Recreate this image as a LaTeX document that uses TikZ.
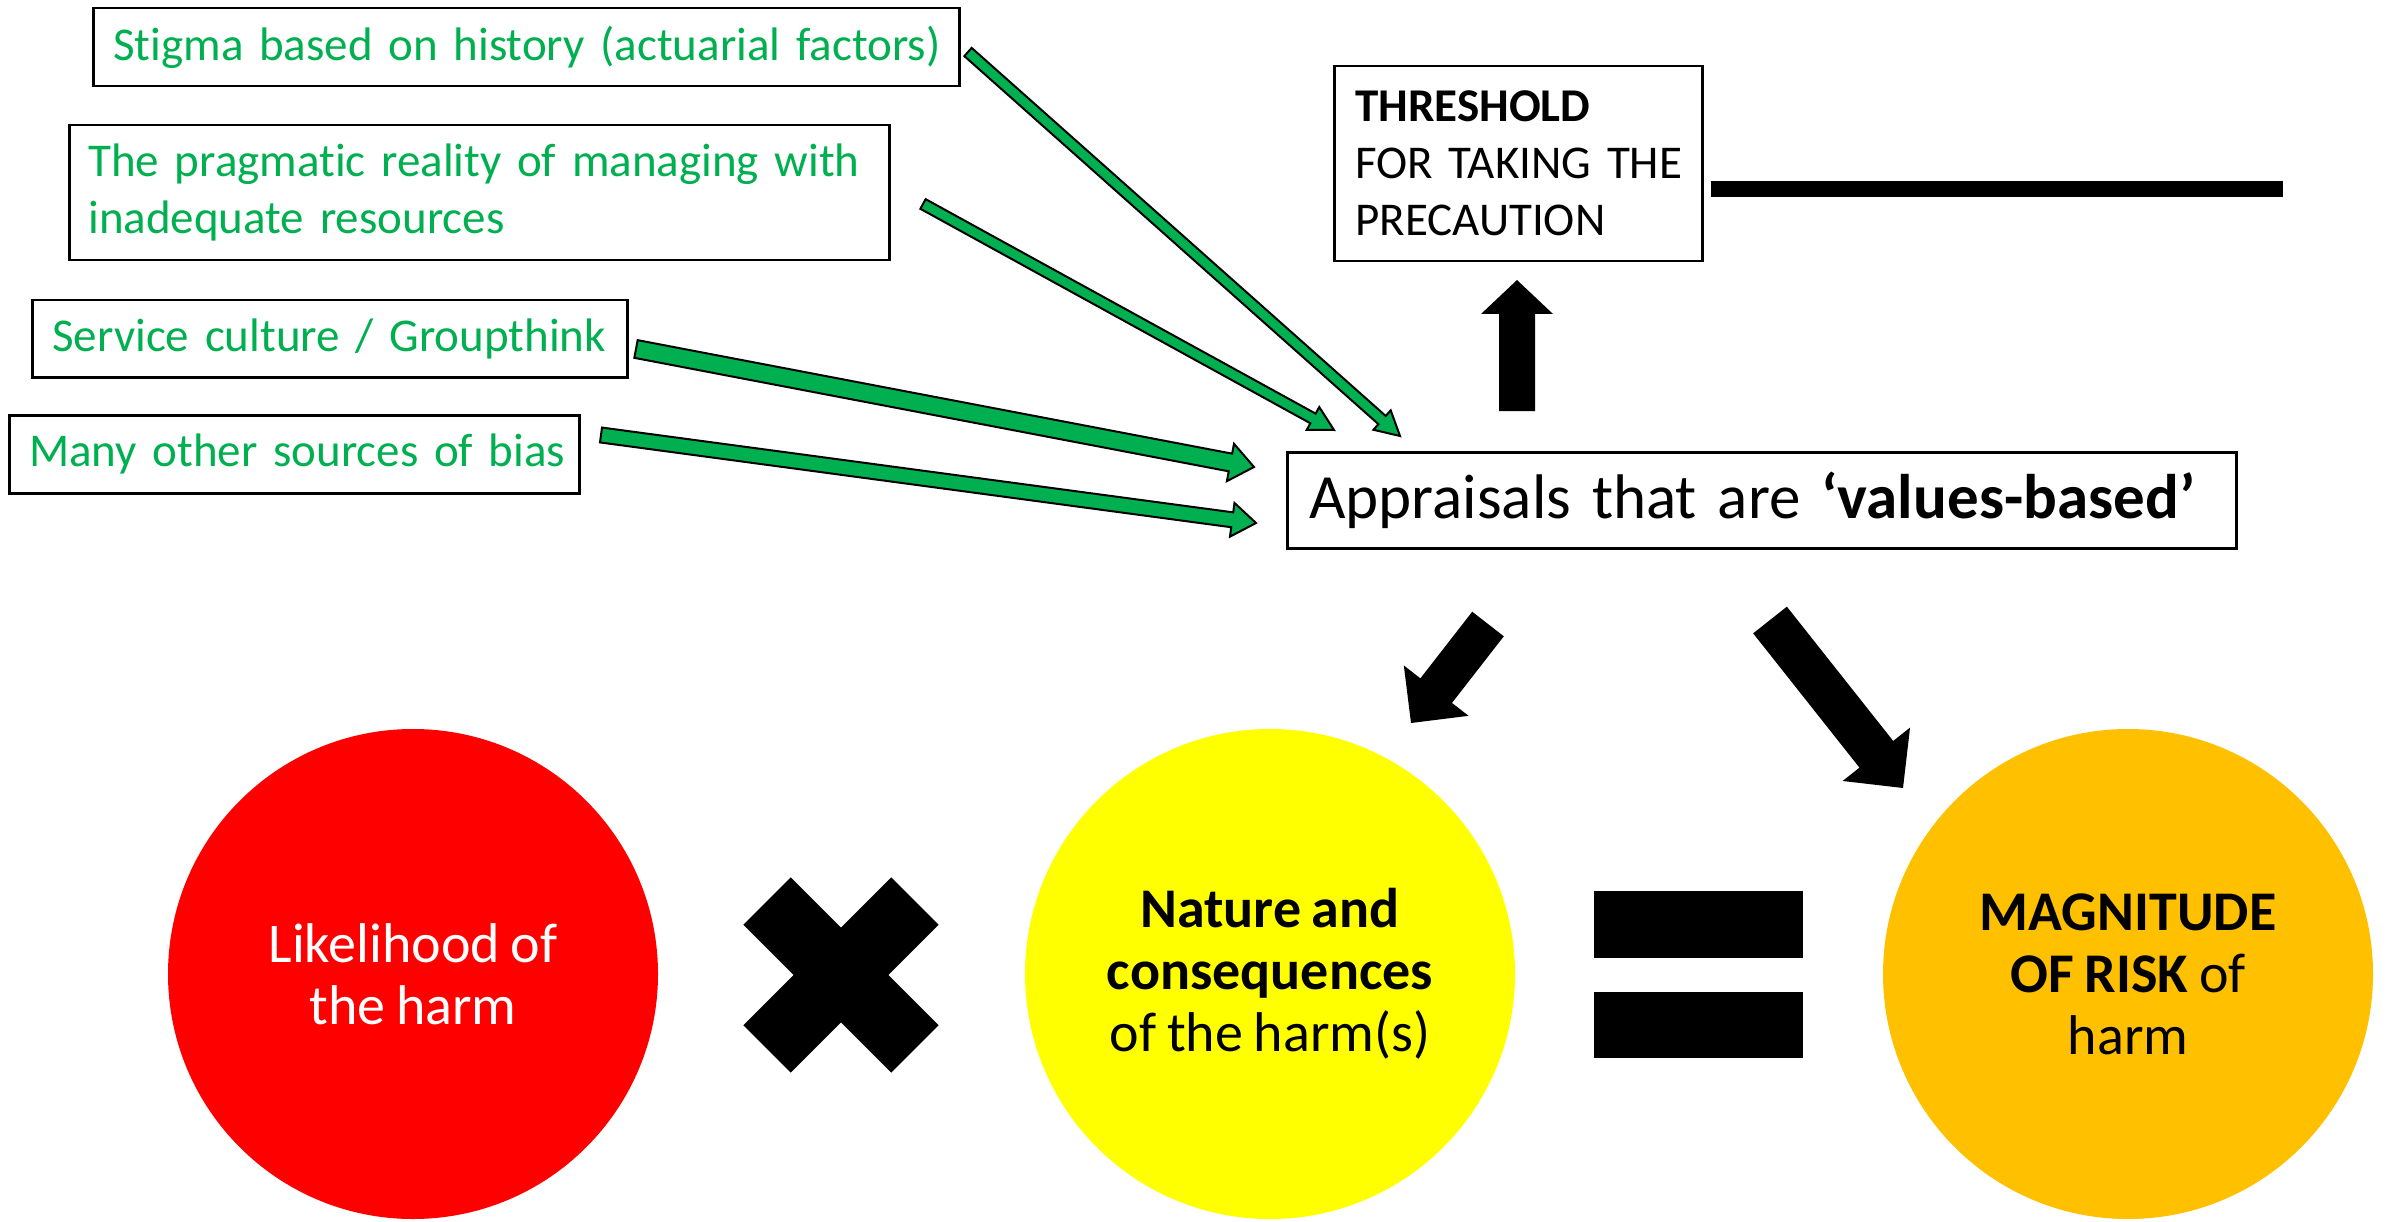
\documentclass[tikz,border=0pt]{standalone}
\usepackage{fontspec}
\setmainfont{Carlito}[Ligatures=NoCommon, WordSpace=0.85]
\usetikzlibrary{calc}
\definecolor{ggreen}{RGB}{0,176,80}
\definecolor{orng}{RGB}{255,192,0}
\definecolor{yell}{RGB}{255,255,0}
\definecolor{rred}{RGB}{255,0,0}
% #1 style, #2 start, #3 tip, #4 shaft half width, #5 head half width, #6 head length
\newcommand\blockarr[6]{%
  \coordinate (ba-b) at ($(#3)!#6!(#2)$);
  \path[#1] ($(#2)!#4!90:(#3)$) -- ($(ba-b)!#4!90:(#3)$) -- ($(ba-b)!#5!90:(#3)$)
    -- (#3) -- ($(ba-b)!#5!-90:(#3)$) -- ($(ba-b)!#4!-90:(#3)$) -- ($(#2)!#4!-90:(#3)$) -- cycle;
}
\begin{document}
\begin{tikzpicture}[x=1pt,y=-1pt,
  tbox/.style={draw=black, line width=2.5pt, fill=white, anchor=north west, align=left,
    inner ysep=0pt, font=\fontsize{47}{57}\selectfont},
  gtext/.style={text=ggreen},
  garrow/.style={fill=ggreen, draw=black, line width=2pt, line join=miter},
  karrow/.style={fill=black},
  disc/.style={circle, inner sep=0pt, minimum size=490pt, align=center,
    font=\fontsize{56}{62}\selectfont}
]
\useasboundingbox[fill=white] (0,0) rectangle (2389,1222);

% green source boxes
\node[tbox, gtext, inner xsep=20pt, text width=826pt, minimum height=78pt] (b1) at (92,7)
  {\mbox{Stigma based on history (actuarial factors)}};
\node[tbox, gtext, inner xsep=19pt, text width=782pt, minimum height=135pt] (b2) at (68,124)
  {\mbox{The pragmatic reality of managing with}\\\mbox{inadequate resources}};
\node[tbox, gtext, inner xsep=20pt, text width=555pt, minimum height=77pt] (b3) at (31,299)
  {\mbox{Service culture / Groupthink}};
\node[tbox, gtext, inner xsep=20pt, text width=530pt, minimum height=78pt] (b4) at (8,414)
  {\mbox{Many other sources of bias}};

% threshold box
\node[tbox, inner xsep=21pt, text width=326pt, minimum height=195pt] (thr) at (1333,65)
  {\mbox{\textbf{THRESHOLD}}\\\mbox{FOR TAKING THE}\\\mbox{PRECAUTION}};
\fill (1711,181) rectangle (2283,197);

% appraisals box
\node[tbox, inner xsep=22pt, text width=905pt, minimum height=96pt,
  font=\fontsize{63}{75}\selectfont] (app) at (1286,451)
  {\mbox{Appraisals that are \textbf{‘values-based’}}};

% arrow end points
\coordinate (a1s) at (968,52);   \coordinate (a1e) at (1400,436);
\coordinate (a2s) at (923,204);  \coordinate (a2e) at (1334,430);
\coordinate (a3s) at (636,349);  \coordinate (a3e) at (1254,467);
\coordinate (a4s) at (601,435);  \coordinate (a4e) at (1256,523);
\coordinate (ups) at (1517,411); \coordinate (upe) at (1517,280);
\coordinate (dls) at (1488,624); \coordinate (dle) at (1411,723);
\coordinate (drs) at (1770,620); \coordinate (dre) at (1903,788);

\blockarr{garrow}{a1s}{a1e}{5.5pt}{13pt}{24pt}
\blockarr{garrow}{a2s}{a2e}{5.5pt}{13pt}{24pt}
\blockarr{garrow}{a3s}{a3e}{9pt}{19pt}{24pt}
\blockarr{garrow}{a4s}{a4e}{7.5pt}{17pt}{24pt}

\blockarr{karrow}{ups}{upe}{18pt}{36pt}{34pt}
\blockarr{karrow}{dls}{dle}{20pt}{41pt}{41pt}
\blockarr{karrow}{drs}{dre}{21.5pt}{43pt}{43pt}

% circles
\node[disc, fill=rred, text=white] (like) at (413,974) {Likelihood of\\the harm};
\node[disc, fill=yell] (nat) at (1270,974) {\textbf{Nature and}\\\textbf{consequences}\\of the harm(s)};
\node[disc, fill=orng] (mag) at (2128,974) {\textbf{MAGNITUDE}\\\textbf{OF RISK} of\\harm};

% times sign
\node[fill=black, inner sep=0pt, minimum width=209pt, minimum height=67pt, rotate=45] (tx1) at (841,975) {};
\node[fill=black, inner sep=0pt, minimum width=209pt, minimum height=67pt, rotate=-45] (tx2) at (841,975) {};

% equals sign
\fill (1594,891) rectangle (1803,958);
\fill (1594,992) rectangle (1803,1058);
\end{tikzpicture}
\end{document}
